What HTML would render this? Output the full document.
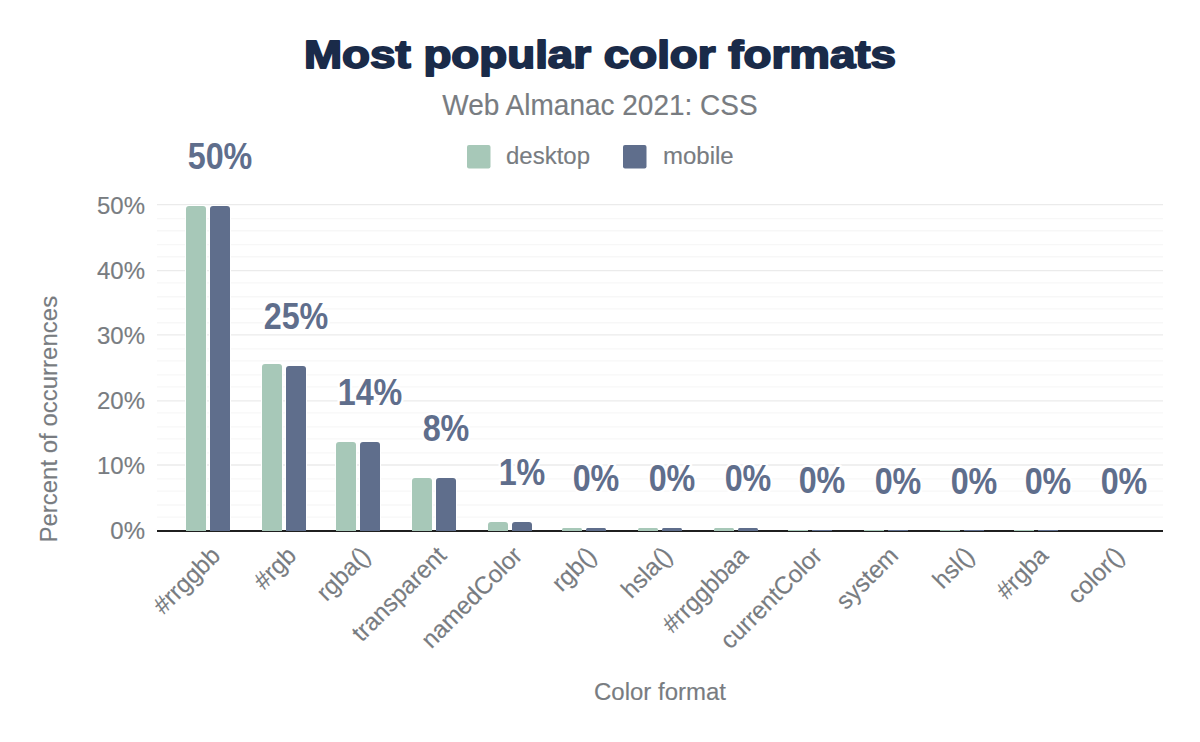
<!DOCTYPE html><html><head><meta charset="utf-8"><title>Most popular color formats</title><style>
html,body{margin:0;padding:0;background:#fff;width:1200px;height:742px;overflow:hidden}
svg{display:block}
text{font-family:"Liberation Sans", Arial, Helvetica, sans-serif}
.g{fill:#787c81;stroke:#787c81;stroke-width:0.15px}
</style></head><body>
<svg width="1200" height="742" viewBox="0 0 1200 742">
<rect width="1200" height="742" fill="#fff"/>
<text x="600" y="68.3" text-anchor="middle" font-size="38" font-weight="bold" fill="#1a2b49" stroke="#1a2b49" stroke-width="1.8" stroke-linejoin="round" textLength="592" lengthAdjust="spacingAndGlyphs">Most popular color formats</text>
<text transform="translate(600,114.8) scale(1,1.025)" text-anchor="middle" font-size="28" class="g">Web Almanac 2021: CSS</text>
<rect x="467" y="145" width="23.5" height="23.5" rx="2" fill="#a7c8b8"/>
<text transform="translate(506,164) scale(1,1.025)" font-size="24" class="g">desktop</text>
<rect x="623" y="145" width="23.5" height="23.5" rx="2" fill="#5f6e8c"/>
<text transform="translate(663,164) scale(1,1.025)" font-size="24" class="g">mobile</text>
<line x1="157" x2="1163" y1="204.70" y2="204.70" stroke="#ebebeb" stroke-width="1.3"/>
<line x1="157" x2="1163" y1="218.65" y2="218.65" stroke="#f7f7f7" stroke-width="1.3"/>
<line x1="157" x2="1163" y1="230.73" y2="230.73" stroke="#f7f7f7" stroke-width="1.3"/>
<line x1="157" x2="1163" y1="244.68" y2="244.68" stroke="#f7f7f7" stroke-width="1.3"/>
<line x1="157" x2="1163" y1="256.76" y2="256.76" stroke="#f7f7f7" stroke-width="1.3"/>
<line x1="157" x2="1163" y1="270.71" y2="270.71" stroke="#ebebeb" stroke-width="1.3"/>
<line x1="157" x2="1163" y1="282.79" y2="282.79" stroke="#f7f7f7" stroke-width="1.3"/>
<line x1="157" x2="1163" y1="296.74" y2="296.74" stroke="#f7f7f7" stroke-width="1.3"/>
<line x1="157" x2="1163" y1="308.82" y2="308.82" stroke="#f7f7f7" stroke-width="1.3"/>
<line x1="157" x2="1163" y1="322.77" y2="322.77" stroke="#f7f7f7" stroke-width="1.3"/>
<line x1="157" x2="1163" y1="334.85" y2="334.85" stroke="#ebebeb" stroke-width="1.3"/>
<line x1="157" x2="1163" y1="348.80" y2="348.80" stroke="#f7f7f7" stroke-width="1.3"/>
<line x1="157" x2="1163" y1="360.88" y2="360.88" stroke="#f7f7f7" stroke-width="1.3"/>
<line x1="157" x2="1163" y1="374.83" y2="374.83" stroke="#f7f7f7" stroke-width="1.3"/>
<line x1="157" x2="1163" y1="386.91" y2="386.91" stroke="#f7f7f7" stroke-width="1.3"/>
<line x1="157" x2="1163" y1="400.86" y2="400.86" stroke="#ebebeb" stroke-width="1.3"/>
<line x1="157" x2="1163" y1="412.94" y2="412.94" stroke="#f7f7f7" stroke-width="1.3"/>
<line x1="157" x2="1163" y1="426.89" y2="426.89" stroke="#f7f7f7" stroke-width="1.3"/>
<line x1="157" x2="1163" y1="438.97" y2="438.97" stroke="#f7f7f7" stroke-width="1.3"/>
<line x1="157" x2="1163" y1="452.92" y2="452.92" stroke="#f7f7f7" stroke-width="1.3"/>
<line x1="157" x2="1163" y1="465.00" y2="465.00" stroke="#ebebeb" stroke-width="1.3"/>
<line x1="157" x2="1163" y1="478.95" y2="478.95" stroke="#f7f7f7" stroke-width="1.3"/>
<line x1="157" x2="1163" y1="491.03" y2="491.03" stroke="#f7f7f7" stroke-width="1.3"/>
<line x1="157" x2="1163" y1="504.98" y2="504.98" stroke="#f7f7f7" stroke-width="1.3"/>
<line x1="157" x2="1163" y1="517.06" y2="517.06" stroke="#f7f7f7" stroke-width="1.3"/>
<text transform="translate(145,538.90) scale(1,1.025)" text-anchor="end" font-size="24" class="g">0%</text>
<text transform="translate(145,473.82) scale(1,1.025)" text-anchor="end" font-size="24" class="g">10%</text>
<text transform="translate(145,408.74) scale(1,1.025)" text-anchor="end" font-size="24" class="g">20%</text>
<text transform="translate(145,343.66) scale(1,1.025)" text-anchor="end" font-size="24" class="g">30%</text>
<text transform="translate(145,278.58) scale(1,1.025)" text-anchor="end" font-size="24" class="g">40%</text>
<text transform="translate(145,213.50) scale(1,1.025)" text-anchor="end" font-size="24" class="g">50%</text>
<text transform="translate(57.0,542.6) rotate(-90) scale(1,1.025)" font-size="24" class="g">Percent of occurrences</text>
<rect x="185.00" y="205.00" width="22" height="325.00" rx="3" fill="#fff"/>
<rect x="209.00" y="205.00" width="22" height="325.00" rx="3" fill="#fff"/>
<rect x="261.00" y="363.00" width="22" height="167.00" rx="3" fill="#fff"/>
<rect x="285.00" y="365.00" width="22" height="165.00" rx="3" fill="#fff"/>
<rect x="335.00" y="441.00" width="22" height="89.00" rx="3" fill="#fff"/>
<rect x="359.00" y="441.00" width="22" height="89.00" rx="3" fill="#fff"/>
<rect x="411.00" y="477.00" width="22" height="53.00" rx="3" fill="#fff"/>
<rect x="435.00" y="477.00" width="22" height="53.00" rx="3" fill="#fff"/>
<rect x="487.00" y="521.00" width="22" height="9.00" rx="3" fill="#fff"/>
<rect x="511.00" y="521.00" width="22" height="9.00" rx="3" fill="#fff"/>
<rect x="561.00" y="527.00" width="22" height="3.00" rx="3" fill="#fff"/>
<rect x="585.00" y="527.00" width="22" height="3.00" rx="3" fill="#fff"/>
<rect x="637.00" y="527.00" width="22" height="3.00" rx="3" fill="#fff"/>
<rect x="661.00" y="527.00" width="22" height="3.00" rx="3" fill="#fff"/>
<rect x="713.00" y="527.00" width="22" height="3.00" rx="3" fill="#fff"/>
<rect x="737.00" y="527.00" width="22" height="3.00" rx="3" fill="#fff"/>
<rect x="157" y="530" width="1006" height="2" fill="#1f1f1f"/>
<path d="M186.00 531.00 V209.00 Q186.00 206.00 189.00 206.00 H203.00 Q206.00 206.00 206.00 209.00 V531.00 Z" fill="#a7c8b8"/>
<path d="M210.00 531.00 V209.00 Q210.00 206.00 213.00 206.00 H227.00 Q230.00 206.00 230.00 209.00 V531.00 Z" fill="#5f6e8c"/>
<path d="M262.00 531.00 V367.00 Q262.00 364.00 265.00 364.00 H279.00 Q282.00 364.00 282.00 367.00 V531.00 Z" fill="#a7c8b8"/>
<path d="M286.00 531.00 V369.00 Q286.00 366.00 289.00 366.00 H303.00 Q306.00 366.00 306.00 369.00 V531.00 Z" fill="#5f6e8c"/>
<path d="M336.00 531.00 V445.00 Q336.00 442.00 339.00 442.00 H353.00 Q356.00 442.00 356.00 445.00 V531.00 Z" fill="#a7c8b8"/>
<path d="M360.00 531.00 V445.00 Q360.00 442.00 363.00 442.00 H377.00 Q380.00 442.00 380.00 445.00 V531.00 Z" fill="#5f6e8c"/>
<path d="M412.00 531.00 V481.00 Q412.00 478.00 415.00 478.00 H429.00 Q432.00 478.00 432.00 481.00 V531.00 Z" fill="#a7c8b8"/>
<path d="M436.00 531.00 V481.00 Q436.00 478.00 439.00 478.00 H453.00 Q456.00 478.00 456.00 481.00 V531.00 Z" fill="#5f6e8c"/>
<path d="M488.00 531.00 V525.00 Q488.00 522.00 491.00 522.00 H505.00 Q508.00 522.00 508.00 525.00 V531.00 Z" fill="#a7c8b8"/>
<path d="M512.00 531.00 V525.00 Q512.00 522.00 515.00 522.00 H529.00 Q532.00 522.00 532.00 525.00 V531.00 Z" fill="#5f6e8c"/>
<path d="M562.00 531.00 V529.50 Q562.00 528.00 563.50 528.00 H580.50 Q582.00 528.00 582.00 529.50 V531.00 Z" fill="#a7c8b8"/>
<path d="M586.00 531.00 V529.50 Q586.00 528.00 587.50 528.00 H604.50 Q606.00 528.00 606.00 529.50 V531.00 Z" fill="#5f6e8c"/>
<path d="M638.00 531.00 V529.50 Q638.00 528.00 639.50 528.00 H656.50 Q658.00 528.00 658.00 529.50 V531.00 Z" fill="#a7c8b8"/>
<path d="M662.00 531.00 V529.50 Q662.00 528.00 663.50 528.00 H680.50 Q682.00 528.00 682.00 529.50 V531.00 Z" fill="#5f6e8c"/>
<path d="M714.00 531.00 V529.50 Q714.00 528.00 715.50 528.00 H732.50 Q734.00 528.00 734.00 529.50 V531.00 Z" fill="#a7c8b8"/>
<path d="M738.00 531.00 V529.50 Q738.00 528.00 739.50 528.00 H756.50 Q758.00 528.00 758.00 529.50 V531.00 Z" fill="#5f6e8c"/>
<rect x="788.00" y="530.00" width="20" height="1.00" fill="#a7c8b8"/>
<rect x="812.00" y="530.00" width="20" height="1.00" fill="#5f6e8c"/>
<rect x="864.00" y="530.00" width="20" height="1.00" fill="#a7c8b8"/>
<rect x="888.00" y="530.00" width="20" height="1.00" fill="#5f6e8c"/>
<rect x="940.00" y="530.00" width="20" height="1.00" fill="#a7c8b8"/>
<rect x="964.00" y="530.00" width="20" height="1.00" fill="#5f6e8c"/>
<rect x="1014.00" y="530.00" width="20" height="1.00" fill="#a7c8b8"/>
<rect x="1038.00" y="530.00" width="20" height="1.00" fill="#5f6e8c"/>
<g transform="translate(220.00,169.00) scale(0.95,1.06)"><text text-anchor="middle" font-size="34" font-weight="bold" fill="#5f6e8c" stroke="#fff" stroke-width="5" stroke-linejoin="round" paint-order="stroke">50%</text></g>
<g transform="translate(296.00,329.00) scale(0.95,1.06)"><text text-anchor="middle" font-size="34" font-weight="bold" fill="#5f6e8c" stroke="#fff" stroke-width="5" stroke-linejoin="round" paint-order="stroke">25%</text></g>
<g transform="translate(370.00,405.00) scale(0.95,1.06)"><text text-anchor="middle" font-size="34" font-weight="bold" fill="#5f6e8c" stroke="#fff" stroke-width="5" stroke-linejoin="round" paint-order="stroke">14%</text></g>
<g transform="translate(446.00,441.00) scale(0.95,1.06)"><text text-anchor="middle" font-size="34" font-weight="bold" fill="#5f6e8c" stroke="#fff" stroke-width="5" stroke-linejoin="round" paint-order="stroke">8%</text></g>
<g transform="translate(522.00,485.00) scale(0.95,1.06)"><text text-anchor="middle" font-size="34" font-weight="bold" fill="#5f6e8c" stroke="#fff" stroke-width="5" stroke-linejoin="round" paint-order="stroke">1%</text></g>
<g transform="translate(596.00,491.00) scale(0.95,1.06)"><text text-anchor="middle" font-size="34" font-weight="bold" fill="#5f6e8c" stroke="#fff" stroke-width="5" stroke-linejoin="round" paint-order="stroke">0%</text></g>
<g transform="translate(672.00,491.00) scale(0.95,1.06)"><text text-anchor="middle" font-size="34" font-weight="bold" fill="#5f6e8c" stroke="#fff" stroke-width="5" stroke-linejoin="round" paint-order="stroke">0%</text></g>
<g transform="translate(748.00,491.00) scale(0.95,1.06)"><text text-anchor="middle" font-size="34" font-weight="bold" fill="#5f6e8c" stroke="#fff" stroke-width="5" stroke-linejoin="round" paint-order="stroke">0%</text></g>
<g transform="translate(822.00,492.60) scale(0.95,1.06)"><text text-anchor="middle" font-size="34" font-weight="bold" fill="#5f6e8c" stroke="#fff" stroke-width="5" stroke-linejoin="round" paint-order="stroke">0%</text></g>
<g transform="translate(898.00,494.00) scale(0.95,1.06)"><text text-anchor="middle" font-size="34" font-weight="bold" fill="#5f6e8c" stroke="#fff" stroke-width="5" stroke-linejoin="round" paint-order="stroke">0%</text></g>
<g transform="translate(974.00,494.00) scale(0.95,1.06)"><text text-anchor="middle" font-size="34" font-weight="bold" fill="#5f6e8c" stroke="#fff" stroke-width="5" stroke-linejoin="round" paint-order="stroke">0%</text></g>
<g transform="translate(1048.00,494.00) scale(0.95,1.06)"><text text-anchor="middle" font-size="34" font-weight="bold" fill="#5f6e8c" stroke="#fff" stroke-width="5" stroke-linejoin="round" paint-order="stroke">0%</text></g>
<g transform="translate(1124.00,494.00) scale(0.95,1.06)"><text text-anchor="middle" font-size="34" font-weight="bold" fill="#5f6e8c" stroke="#fff" stroke-width="5" stroke-linejoin="round" paint-order="stroke">0%</text></g>
<text transform="translate(221.70,557) rotate(-45) scale(1,1.025)" text-anchor="end" font-size="24" class="g">#rrggbb</text>
<text transform="translate(297.70,557) rotate(-45) scale(1,1.025)" text-anchor="end" font-size="24" class="g">#rgb</text>
<text transform="translate(371.70,557) rotate(-45) scale(1,1.025)" text-anchor="end" font-size="24" class="g">rgba()</text>
<text transform="translate(447.70,557) rotate(-45) scale(1,1.025)" text-anchor="end" font-size="24" class="g">transparent</text>
<text transform="translate(523.70,557) rotate(-45) scale(1,1.025)" text-anchor="end" font-size="24" class="g">namedColor</text>
<text transform="translate(597.70,557) rotate(-45) scale(1,1.025)" text-anchor="end" font-size="24" class="g">rgb()</text>
<text transform="translate(673.70,557) rotate(-45) scale(1,1.025)" text-anchor="end" font-size="24" class="g">hsla()</text>
<text transform="translate(749.70,557) rotate(-45) scale(1,1.025)" text-anchor="end" font-size="24" class="g">#rrggbbaa</text>
<text transform="translate(823.70,557) rotate(-45) scale(1,1.025)" text-anchor="end" font-size="24" class="g">currentColor</text>
<text transform="translate(899.70,557) rotate(-45) scale(1,1.025)" text-anchor="end" font-size="24" class="g">system</text>
<text transform="translate(975.70,557) rotate(-45) scale(1,1.025)" text-anchor="end" font-size="24" class="g">hsl()</text>
<text transform="translate(1049.70,557) rotate(-45) scale(1,1.025)" text-anchor="end" font-size="24" class="g">#rgba</text>
<text transform="translate(1125.70,557) rotate(-45) scale(1,1.025)" text-anchor="end" font-size="24" class="g">color()</text>
<text transform="translate(660,700) scale(1,1.025)" text-anchor="middle" font-size="24" class="g">Color format</text>
</svg></body></html>
